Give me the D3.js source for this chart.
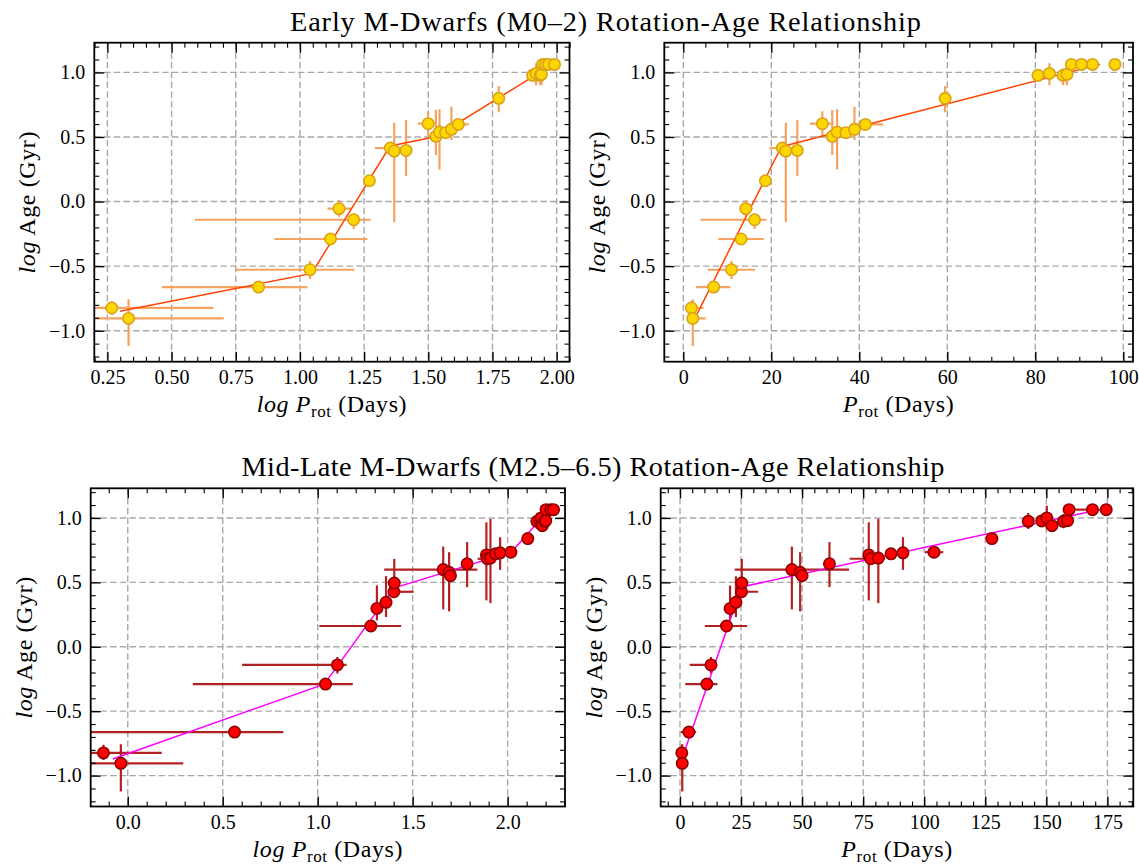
<!DOCTYPE html>
<html>
<head>
<meta charset="utf-8">
<script src="https://cdn.jsdelivr.net/npm/d3@7"></script>
<style>
  body { margin: 0; background: #fff; }
  svg { display: block; }
  text { font-family: "Liberation Serif", "Times New Roman", serif; fill: #000; }
</style>
</head>
<body>
<svg id="fig" width="1139" height="865"></svg>
<script>
// ---------------- Early M dwarfs (M0-2) ----------------
// rotation period in days and log age in Gyr
const earlyProt = [1.85, 2.15, 6.9, 10.95, 13.15, 14.2, 16.2, 18.65, 22.5, 23.3, 25.9, 31.6, 33.85,
  34.95, 36.95, 38.9, 41.4, 59.5, 80.6, 83.2, 86.3, 87.2, 88.2, 90.5, 93.0, 98.1];
const earlyLogAge = [-0.824, -0.905, -0.662, -0.528, -0.290, -0.055, -0.141, 0.161, 0.414, 0.391, 0.396,
  0.603, 0.505, 0.538, 0.533, 0.559, 0.597, 0.799, 0.977, 0.992, 0.977, 0.985, 1.062, 1.062, 1.062, 1.062];
// [low, high] bounds of the period (days) and of log age; null = no bar
const earlyProtRange = [[0.76, 4.6], [1.3, 5.05], [2.9, 10.7], [5.6, 16.3], [7.95, 18.3], [12.8, 15.8],
  [3.9, 18.9], null, [19.6, 23.6], null, null, [28.8, 34.1], null, null, null, [37.3, 40.5], [38.0, 45.4],
  null, null, null, null, null, null, null, null, null];
const earlyAgeRange = [[-0.88, -0.77], [-1.119, -0.757], null, [-0.600, -0.461], null, [-0.117, 0.012],
  [-0.213, -0.092], null, null, [-0.16, 0.61], [0.197, 0.631], [0.50, 0.70], [0.360, 0.708], [0.249, 0.714],
  null, [0.476, 0.734], null, [0.692, 0.894], null, [0.90, 1.07], [0.90, 1.03], [0.90, 1.03],
  null, null, null, null];
// relation nodes: log-period panel and linear-period panel
const earlyLogFitX = [0.299, 1.046, 1.351, 1.529, 1.935];
const earlyLogFitY = [-0.850, -0.556, 0.430, 0.502, 1.0];
const earlyFitP = [3.0, 22.3, 94.7];
const earlyFitY = [-0.879, 0.425, 1.062];

// ---------------- Mid-late M dwarfs (M2.5-6.5) ----------------
const lateProt = [0.745, 0.92, 3.65, 11.0, 12.7, 19.05, 20.5, 22.9, 25.2, 25.3, 45.8, 49.2, 50.0, 61.2,
  77.3, 78.1, 81.2, 86.4, 91.3, 104.0, 127.7, 142.6, 148.1, 150.2, 152.3, 157.0, 158.7, 159.3, 168.9, 174.5];
const lateLogAge = [-0.824, -0.905, -0.662, -0.290, -0.141, 0.161, 0.297, 0.345, 0.427, 0.494, 0.599,
  0.578, 0.552, 0.644, 0.713, 0.683, 0.688, 0.721, 0.729, 0.734, 0.840, 0.974, 0.977, 1.0, 0.940, 0.974,
  0.979, 1.064, 1.064, 1.064];
const lateProtRange = [[0.3, 1.51], [0.35, 1.96], [0.3, 6.6], [2.2, 15.3], [4.0, 14.2], [10.2, 27.5],
  null, null, [23.5, 32.0], null, [22.4, 69.2], null, null, null, null, [69.5, 84.0], null, null, null,
  [100.3, 107.8], null, null, null, null, null, null, null, [157.0, 167.0], null, null];
const lateAgeRange = [[-0.88, -0.76], [-1.124, -0.757], null, null, [-0.208, -0.079], null, [0.205, 0.476],
  [0.231, 0.548], null, [0.424, 0.682], [0.290, 0.778], [0.275, 0.734], null, [0.463, 0.812], [0.360, 0.966],
  null, [0.339, 0.992], null, [0.597, 0.850], null, null, [0.915, 1.039], null, [0.915, 1.095], null,
  [0.92, 1.03], null, null, null, null];
const lateLogFitX = [-0.079, 1.035, 1.40, 2.02, 2.215];
const lateLogFitY = [-0.871, -0.290, 0.455, 0.735, 1.06];
const lateFitP = [0.7, 25.2, 172];
const lateFitY = [-0.876, 0.464, 1.065];

// ---------------- tick labels ----------------
const ageTicks = [-1.0, -0.5, 0.0, 0.5, 1.0];
const earlyLogTicks = [0.25, 0.50, 0.75, 1.00, 1.25, 1.50, 1.75, 2.00];
const earlyLinTicks = [0, 20, 40, 60, 80, 100];
const lateLogTicks = [0.0, 0.5, 1.0, 1.5, 2.0];
const lateLinTicks = [0, 25, 50, 75, 100, 125, 150, 175];

const titles = ["Early M-Dwarfs (M0\u20132) Rotation-Age Relationship",
  "Mid-Late M-Dwarfs (M2.5\u20136.5) Rotation-Age Relationship"];

// ---------------- styles ----------------
const earlyStyle = { fill: "#ffd700", edge: "#d9a21b", bar: "#f5a35f", line: "#ff4500" };
const lateStyle = { fill: "#ff0000", edge: "#8b0000", bar: "#b22222", line: "#ff00ff" };

const svg = d3.select("#fig");
const ageDomain = [-1.24, 1.23];

const panels = [
  { box: [94.3, 42.7, 569.5, 361.7], xDomain: [0.199, 2.050], log: true, ticks: earlyLogTicks, fmt: d3.format(".2f"), minor: 0.05,
    P: earlyProt, A: earlyLogAge, PR: earlyProtRange, AR: earlyAgeRange, fx: earlyLogFitX, fy: earlyLogFitY, st: earlyStyle },
  { box: [664.3, 42.7, 1133.0, 361.7], xDomain: [-4.32, 102.2], log: false, ticks: earlyLinTicks, fmt: d3.format("d"), minor: 5,
    P: earlyProt, A: earlyLogAge, PR: earlyProtRange, AR: earlyAgeRange, fx: earlyFitP, fy: earlyFitY, st: earlyStyle },
  { box: [90.7, 488.3, 565.0, 806.5], xDomain: [-0.195, 2.302], log: true, ticks: lateLogTicks, fmt: d3.format(".1f"), minor: 0.1,
    P: lateProt, A: lateLogAge, PR: lateProtRange, AR: lateAgeRange, fx: lateLogFitX, fy: lateLogFitY, st: lateStyle },
  { box: [660.7, 488.3, 1133.3, 806.5], xDomain: [-7.9, 185.6], log: false, ticks: lateLinTicks, fmt: d3.format("d"), minor: 5,
    P: lateProt, A: lateLogAge, PR: lateProtRange, AR: lateAgeRange, fx: lateFitP, fy: lateFitY, st: lateStyle }
];

function minorValues(domain, step) {
  const lo = Math.ceil(domain[0] / step - 1e-9), hi = Math.floor(domain[1] / step + 1e-9);
  return d3.range(lo, hi + 1).map(k => +(k * step).toFixed(6));
}

panels.forEach((p, i) => {
  const [L, T, R, B] = p.box;
  const x = d3.scaleLinear().domain(p.xDomain).range([L, R]);
  const y = d3.scaleLinear().domain(ageDomain).range([B, T]);
  const tx = p.log ? (v => Math.log10(v)) : (v => v);
  const g = svg.append("g");

  const clipId = "clip" + i;
  svg.append("clipPath").attr("id", clipId)
    .append("rect").attr("x", L).attr("y", T).attr("width", R - L).attr("height", B - T);

  // grid
  const grid = g.append("g").attr("stroke", "#a9a9a9").attr("stroke-width", 1.4)
    .attr("stroke-dasharray", "6.5,3.2");
  p.ticks.forEach(v => grid.append("line").attr("x1", x(v)).attr("x2", x(v)).attr("y1", T).attr("y2", B));
  ageTicks.forEach(v => grid.append("line").attr("x1", L).attr("x2", R).attr("y1", y(v)).attr("y2", y(v)));

  const data = p.P.map((v, k) => ({ px: tx(v), age: p.A[k], pr: p.PR[k], ar: p.AR[k] }));
  const plot = g.append("g").attr("clip-path", `url(#${clipId})`);

  // error bars
  const bars = plot.append("g").attr("stroke", p.st.bar).attr("stroke-width", 2.2);
  data.forEach(d => {
    if (d.pr) bars.append("line").attr("x1", x(tx(d.pr[0]))).attr("x2", x(tx(d.pr[1])))
      .attr("y1", y(d.age)).attr("y2", y(d.age));
    if (d.ar) bars.append("line").attr("x1", x(d.px)).attr("x2", x(d.px))
      .attr("y1", y(d.ar[0])).attr("y2", y(d.ar[1]));
  });

  // relation line
  plot.append("path")
    .datum(p.fx.map((v, k) => [v, p.fy[k]]))
    .attr("fill", "none").attr("stroke", p.st.line).attr("stroke-width", 1.5)
    .attr("d", d3.line().x(d => x(d[0])).y(d => y(d[1])));

  // markers
  plot.append("g").selectAll("circle").data(data).join("circle")
    .attr("cx", d => x(d.px)).attr("cy", d => y(d.age)).attr("r", 5.7)
    .attr("fill", p.st.fill).attr("stroke", p.st.edge).attr("stroke-width", 1.6);

  // axes: inward ticks on all four sides
  const tickAxis = (axisFn, scale, vals, size, fmt) => axisFn(scale).tickValues(vals).tickSizeInner(size)
    .tickSizeOuter(0).tickFormat(fmt);
  const xMinor = minorValues(p.xDomain, p.minor).filter(v => !p.ticks.some(t => Math.abs(t - v) < 1e-6));
  const yMinor = minorValues(ageDomain, 0.1).filter(v => !ageTicks.some(t => Math.abs(t - v) < 1e-6));

  const axes = g.append("g");
  const addAxis = (axis, transform, isMajor) => {
    const a = axes.append("g").attr("transform", transform).call(axis);
    a.select(".domain").remove();
    a.selectAll(".tick line").attr("stroke", "#000").attr("stroke-width", isMajor ? 1.4 : 1.1);
    a.selectAll("text").attr("font-size", 20).attr("font-family", null).attr("fill", "#000");
    return a;
  };
  addAxis(tickAxis(d3.axisBottom, x, p.ticks, -10, p.fmt).tickPadding(8), `translate(0,${B})`, true);
  addAxis(tickAxis(d3.axisTop, x, p.ticks, -10, ""), `translate(0,${T})`, true);
  addAxis(tickAxis(d3.axisLeft, y, ageTicks, -10, d3.format(".1f")).tickPadding(9), `translate(${L},0)`, true);
  addAxis(tickAxis(d3.axisRight, y, ageTicks, -10, ""), `translate(${R},0)`, true);
  addAxis(tickAxis(d3.axisBottom, x, xMinor, -5, ""), `translate(0,${B})`, false);
  addAxis(tickAxis(d3.axisTop, x, xMinor, -5, ""), `translate(0,${T})`, false);
  addAxis(tickAxis(d3.axisLeft, y, yMinor, -5, ""), `translate(${L},0)`, false);
  addAxis(tickAxis(d3.axisRight, y, yMinor, -5, ""), `translate(${R},0)`, false);

  // frame
  g.append("rect").attr("x", L).attr("y", T).attr("width", R - L).attr("height", B - T)
    .attr("fill", "none").attr("stroke", "#000").attr("stroke-width", 1.8);

  // x label
  const xl = g.append("text").attr("x", (L + R) / 2).attr("y", B + 50).attr("text-anchor", "middle")
    .attr("font-size", 24).attr("letter-spacing", 0.6);
  if (p.log) {
    xl.append("tspan").attr("font-style", "italic").text("log");
    xl.append("tspan").text(" ");
  }
  xl.append("tspan").attr("font-style", "italic").text("P");
  xl.append("tspan").attr("font-size", 17).attr("dy", 5).text("rot");
  xl.append("tspan").attr("dy", -5).text(" (Days)");

  // y label
  const yl = g.append("text").attr("transform", `translate(${L - 59},${(T + B) / 2}) rotate(-90)`)
    .attr("text-anchor", "middle").attr("font-size", 24).attr("letter-spacing", 0.6);
  yl.append("tspan").attr("font-style", "italic").text("log");
  yl.append("tspan").text(" Age (Gyr)");
});

// row titles
svg.append("text").attr("x", 605.5).attr("y", 31).attr("text-anchor", "middle")
  .attr("font-size", 28.3).attr("textLength", 631).attr("lengthAdjust", "spacing").text(titles[0]);
svg.append("text").attr("x", 593).attr("y", 476).attr("text-anchor", "middle")
  .attr("font-size", 28.3).attr("textLength", 703).attr("lengthAdjust", "spacing").text(titles[1]);
</script>
</body>
</html>
